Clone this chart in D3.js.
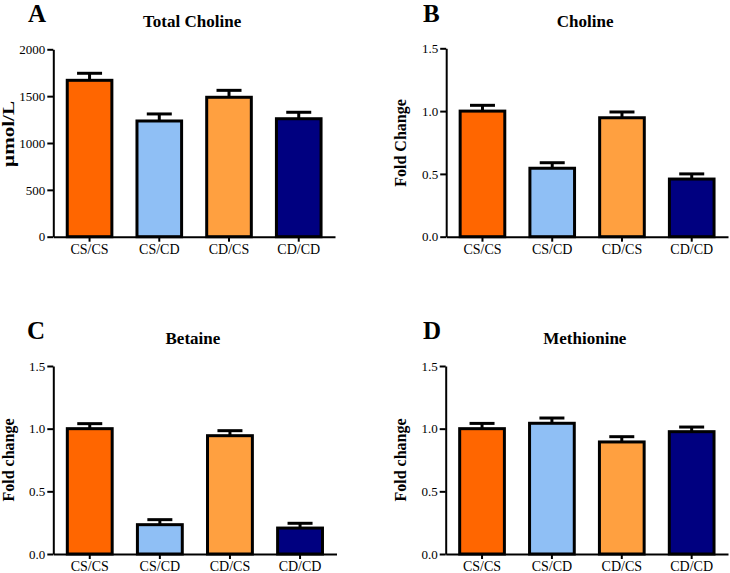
<!DOCTYPE html>
<html>
<head>
<meta charset="utf-8">
<script src="https://cdn.jsdelivr.net/npm/d3@7"></script>
<style>
  html, body { margin: 0; padding: 0; background: #fff; }
  svg { display: block; }
  svg text { font-family: "Liberation Serif", "DejaVu Serif"; fill: #000; }
</style>
</head>
<body>
<svg id="chart" width="730" height="573"></svg>
<script>
// ---- Data ----
const groups = ["CS/CS", "CS/CD", "CD/CS", "CD/CD"];
const groupColors = ["#FF6600", "#8FBFF5", "#FFA040", "#000080"];

const totalCholine = [1669, 1235, 1488, 1259];
const totalCholineSem = [75, 75, 74, 69];

const choline = [1.00, 0.545, 0.947, 0.459];
const cholineSem = [0.046, 0.044, 0.046, 0.041];

const betaine = [1.00, 0.234, 0.944, 0.207];
const betaineSem = [0.040, 0.040, 0.040, 0.038];

const methionine = [1.00, 1.043, 0.894, 0.976];
const methionineSem = [0.042, 0.042, 0.042, 0.037];

const ticksTotal = [0, 500, 1000, 1500, 2000];
const ticksFold = [0, 0.5, 1.0, 1.5];

// ---- Panels (layout) ----
const panels = [
  { letter: "A", title: "Total Choline", ylabel: "µmol/L", values: totalCholine, sem: totalCholineSem,
    ymax: 2000, ticks: ticksTotal, fmt: d3.format("d"), ylabSize: 17, ylabLen: 66,
    x0: 53.3, x1: 335, yTop: 49.3, yBot: 236.7, letterX: 28, letterY: 22, titleY: 26.5, ylabX: 13.5, ylabY: 134 },
  { letter: "B", title: "Choline", ylabel: "Fold Change", values: choline, sem: cholineSem,
    ymax: 1.5, ticks: ticksFold, fmt: d3.format(".1f"), ylabSize: 16, ylabLen: null,
    x0: 446.2, x1: 728, yTop: 48.3, yBot: 236.7, letterX: 423, letterY: 22, titleY: 26.5, ylabX: 405.5, ylabY: 143 },
  { letter: "C", title: "Betaine", ylabel: "Fold change", values: betaine, sem: betaineSem,
    ymax: 1.5, ticks: ticksFold, fmt: d3.format(".1f"), ylabSize: 16, ylabLen: null,
    x0: 53.3, x1: 336.5, yTop: 366, yBot: 554, letterX: 27, letterY: 339, titleY: 344, ylabX: 13.5, ylabY: 460 },
  { letter: "D", title: "Methionine", ylabel: "Fold change", values: methionine, sem: methionineSem,
    ymax: 1.5, ticks: ticksFold, fmt: d3.format(".1f"), ylabSize: 16, ylabLen: null,
    x0: 445.7, x1: 728, yTop: 366, yBot: 554, letterX: 423, letterY: 339, titleY: 344, ylabX: 405.5, ylabY: 460 }
];

const FONT = "'Liberation Serif', 'DejaVu Serif'";
const svg = d3.select("#chart");

panels.forEach(p => {
  const g = svg.append("g");
  const x = d3.scaleBand().domain(groups).range([p.x0, p.x1]).paddingInner(0.36).paddingOuter(0.2);
  const y = d3.scaleLinear().domain([0, p.ymax]).range([p.yBot, p.yTop]);
  const color = d3.scaleOrdinal().domain(groups).range(groupColors);

  const rows = groups.map((k, i) => ({ key: k, v: p.values[i], e: p.sem[i] }));

  // bars
  g.selectAll("rect.bar").data(rows).join("rect")
    .attr("class", "bar")
    .attr("x", d => x(d.key))
    .attr("width", x.bandwidth())
    .attr("y", d => y(d.v))
    .attr("height", d => y(0) - y(d.v))
    .attr("fill", d => color(d.key))
    .attr("stroke", "#000")
    .attr("stroke-width", 3);

  // error bars (upper only)
  const capW = 25;
  g.selectAll("line.err").data(rows).join("line")
    .attr("class", "err")
    .attr("x1", d => x(d.key) + x.bandwidth() / 2)
    .attr("x2", d => x(d.key) + x.bandwidth() / 2)
    .attr("y1", d => y(d.v))
    .attr("y2", d => y(d.v + d.e))
    .attr("stroke", "#000").attr("stroke-width", 3);
  g.selectAll("line.cap").data(rows).join("line")
    .attr("class", "cap")
    .attr("x1", d => x(d.key) + x.bandwidth() / 2 - capW / 2)
    .attr("x2", d => x(d.key) + x.bandwidth() / 2 + capW / 2)
    .attr("y1", d => y(d.v + d.e))
    .attr("y2", d => y(d.v + d.e))
    .attr("stroke", "#000").attr("stroke-width", 3);

  // y axis
  const ya = g.append("g").attr("transform", `translate(${p.x0},0)`)
    .call(d3.axisLeft(y).tickValues(p.ticks).tickFormat(p.fmt).tickSize(6).tickSizeOuter(0).tickPadding(2));
  ya.attr("font-family", null);
  ya.select(".domain").attr("stroke-width", 2);
  ya.selectAll(".tick line").attr("stroke-width", 2);
  ya.selectAll(".tick text").style("font-size", "13px").style("font-family", FONT);

  // x axis
  const xa = g.append("g").attr("transform", `translate(0,${p.yBot})`)
    .call(d3.axisBottom(x).tickSize(5).tickSizeOuter(0).tickPadding(2));
  xa.attr("font-family", null);
  xa.select(".domain").attr("stroke-width", 2);
  xa.selectAll(".tick line").attr("stroke-width", 2);
  xa.selectAll(".tick text").style("font-size", "14px").style("font-family", FONT);

  // panel letter
  g.append("text").attr("x", p.letterX).attr("y", p.letterY)
    .style("font-family", FONT)
    .style("font-size", "25px").style("font-weight", "bold").text(p.letter);

  // title
  g.append("text").attr("x", (p.x0 + p.x1) / 2 - 2).attr("y", p.titleY)
    .attr("text-anchor", "middle")
    .style("font-family", FONT)
    .style("font-size", "17px").style("font-weight", "bold").text(p.title);

  // y label
  const yl = g.append("text")
    .attr("transform", `translate(${p.ylabX},${p.ylabY}) rotate(-90)`)
    .attr("text-anchor", "middle")
    .style("font-family", FONT)
    .style("font-size", p.ylabSize + "px").style("font-weight", "bold").text(p.ylabel);
  if (p.ylabLen) yl.attr("textLength", p.ylabLen).attr("lengthAdjust", "spacingAndGlyphs");
});
</script>
</body>
</html>
